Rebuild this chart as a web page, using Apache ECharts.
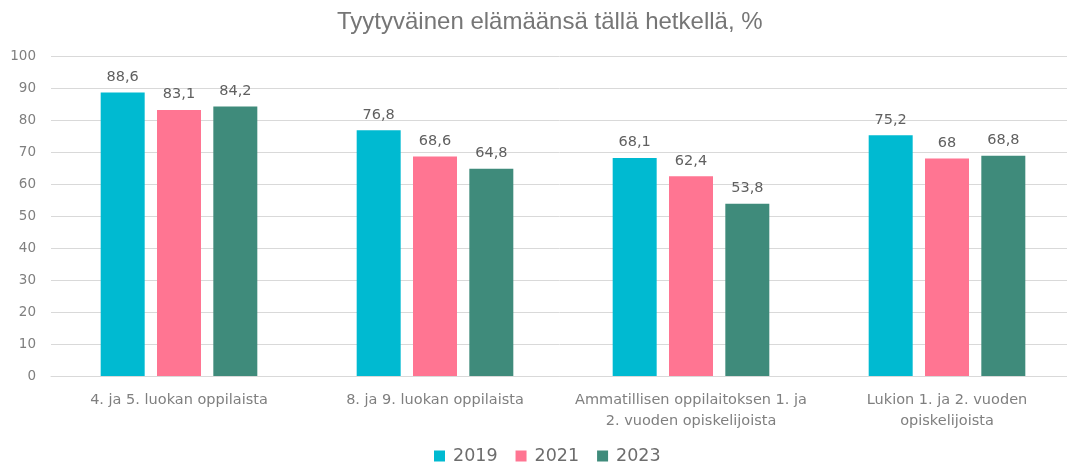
<!DOCTYPE html>
<html>
<head>
<meta charset="utf-8">
<script src="https://cdn.jsdelivr.net/npm/echarts@6/dist/echarts.min.js"></script>
<style>
  html, body { margin: 0; padding: 0; background: #fff; }
  #chart { width: 1067px; height: 465px; }
</style>
</head>
<body>
<div id="chart"></div>
<script>
const categories = [
  "4. ja 5. luokan oppilaista",
  "8. ja 9. luokan oppilaista",
  "Ammatillisen oppilaitoksen 1. ja\n2. vuoden opiskelijoista",
  "Lukion 1. ja 2. vuoden\nopiskelijoista",
];
const years = ["2019", "2021", "2023"];
const values2019 = [88.6, 76.8, 68.1, 75.2];
const values2021 = [83.1, 68.6, 62.4, 68];
const values2023 = [84.2, 64.8, 53.8, 68.8];
const colors = ["#00BAD1", "#FF7592", "#3F8B7B"];

const labelColor = "#606060";
const axisColor = "#7F7F7F";
const font = "'DejaVu Sans', sans-serif";

const chart = echarts.init(document.getElementById("chart"));

function barSeries(name, data, color) {
  return {
    name: name,
    type: "bar",
    data: data,
    barWidth: 44,
    barGap: "28%",
    itemStyle: { color: color },
    label: {
      show: true,
      position: "top",
      distance: 8,
      color: labelColor,
      fontFamily: font,
      fontSize: 14.5,
      formatter: (p) => String(p.value).replace(".", ","),
    },
  };
}

const option = {
  animation: false,
  color: colors,
  title: {
    text: "Tyytyväinen elämäänsä tällä hetkellä, %",
    left: 332,
    top: 5,
    textStyle: {
      color: "#767676",
      fontFamily: "'Liberation Sans', sans-serif",
      fontSize: 24,
      fontWeight: "normal",
    },
  },
  legend: {
    bottom: 0,
    left: 434,
    padding: 0,
    itemWidth: 11,
    itemHeight: 11,
    itemGap: 18,
    icon: "rect",
    textStyle: { color: "#6d6d6d", fontFamily: font, fontSize: 17.5, padding: [0, 0, 0, 3] },
    data: years,
  },
  grid: { left: 51, width: 1024, top: 56, height: 320, outerBoundsMode: "none" },
  xAxis: {
    type: "category",
    data: categories,
    axisLine: { lineStyle: { color: "#D9D9D9" } },
    axisTick: { show: false },
    axisLabel: {
      color: axisColor,
      fontFamily: font,
      fontSize: 14.5,
      lineHeight: 21,
      margin: 14,
      interval: 0,
    },
  },
  yAxis: {
    type: "value",
    min: 0,
    max: 100,
    interval: 10,
    axisLine: { show: false },
    axisTick: { show: false },
    splitLine: { lineStyle: { color: "#D9D9D9" } },
    axisLabel: { color: axisColor, fontFamily: font, fontSize: 13.5, margin: 15 },
  },
  series: [
    barSeries(years[0], values2019, colors[0]),
    barSeries(years[1], values2021, colors[1]),
    barSeries(years[2], values2023, colors[2]),
  ],
};

chart.setOption(option);
</script>
</body>
</html>
